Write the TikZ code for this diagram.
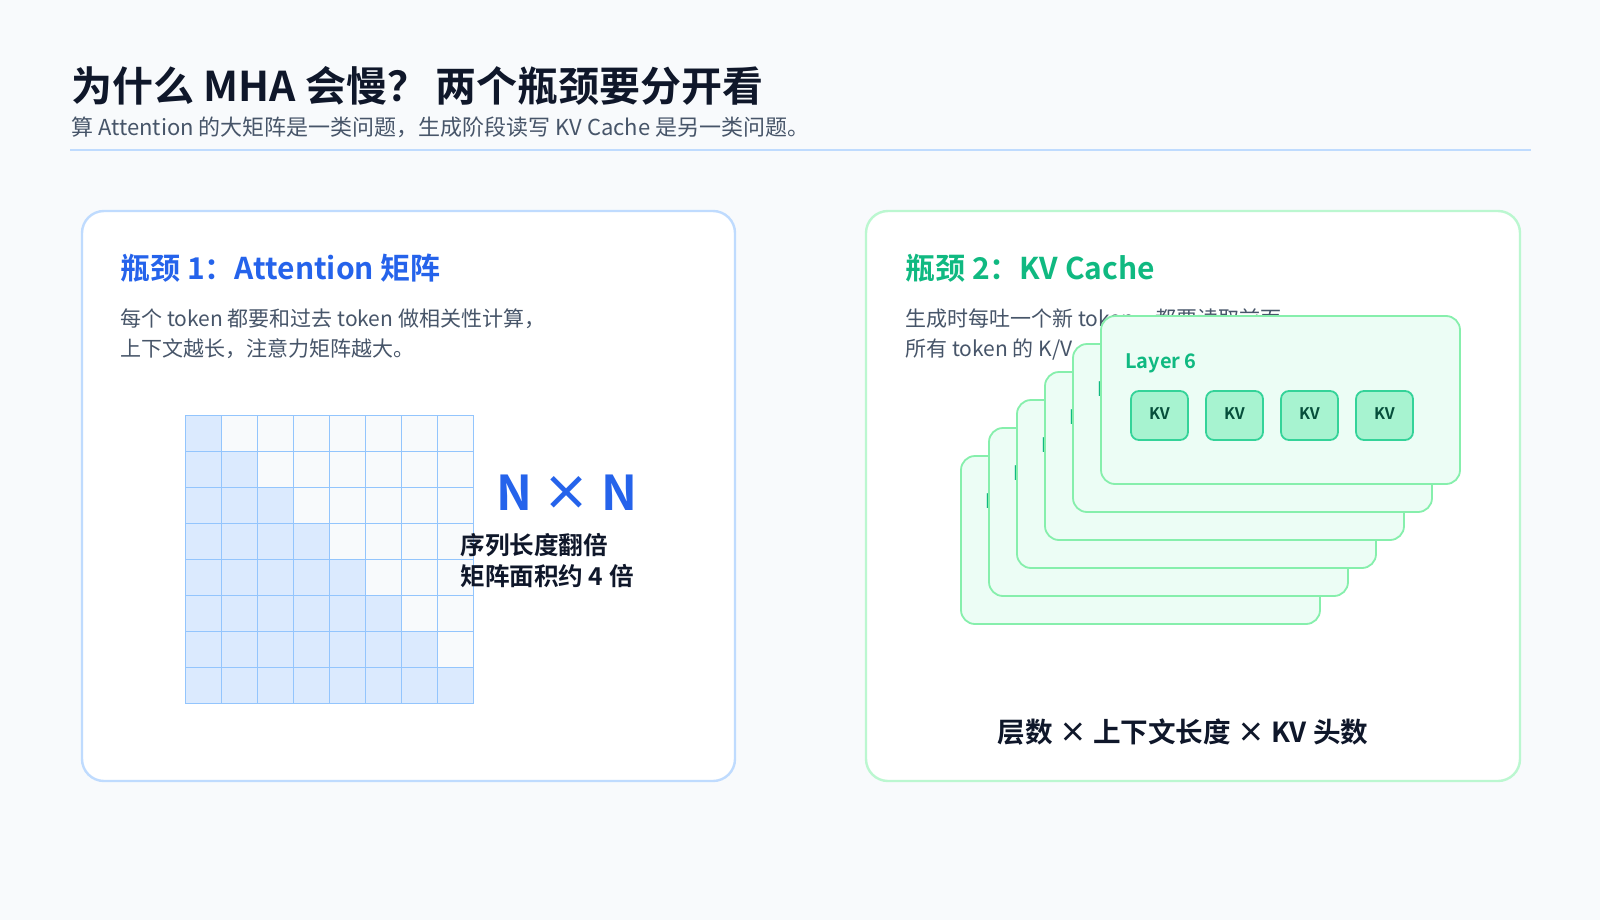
\documentclass[tikz,border=0pt]{standalone}
\usepackage{fontspec}
\setmainfont{Noto Sans CJK SC}
\newfontfamily\cjkb{Noto Sans CJK SC Bold}
\definecolor{pagebg}{HTML}{F8FAFC}
\definecolor{ink}{HTML}{0F172A}
\definecolor{subink}{HTML}{475569}
\definecolor{blueline}{HTML}{BFDBFE}
\definecolor{greenline}{HTML}{BBF7D0}
\definecolor{bluehead}{HTML}{2563EB}
\definecolor{greenhead}{HTML}{10B981}
\definecolor{cellfill}{HTML}{DBEAFE}
\definecolor{cellline}{HTML}{93C5FD}
\definecolor{cardfill}{HTML}{ECFDF5}
\definecolor{cardline}{HTML}{86EFAC}
\definecolor{kvfill}{HTML}{A7F3D0}
\definecolor{kvline}{HTML}{34D399}
\definecolor{kvink}{HTML}{064E3B}

\begin{document}
\begin{tikzpicture}
  [x=0.5pt,y=-0.5pt,
    every node/.style={inner sep=0pt,anchor=base west},
    panel/.style={draw,line width=1.2pt,fill=white,rounded corners=11pt},
    head/.style={font=\cjkb\fontsize{15}{18}\selectfont},
    body/.style={font=\fontsize{10.5}{14}\selectfont,text=subink},
    cell/.style={draw=cellline,line width=0.4pt},
    card/.style={draw=cardline,fill=cardfill,line width=0.9pt,rounded corners=7pt},
    kv/.style={draw=kvline,fill=kvfill,line width=0.9pt,rounded corners=4pt},
  ]
  \fill[pagebg] (0,0) rectangle (1600,920);
  % title
  \node[font=\cjkb\fontsize{20.5}{24}\selectfont,text=ink] (title) at (71,102) {为什么 MHA 会慢？\,两个瓶颈要分开看};
  \node[font=\fontsize{11}{14}\selectfont,text=subink] (subtitle) at (71,135) {算 Attention 的大矩阵是一类问题，生成阶段读写 KV Cache 是另一类问题。};
  \draw[blueline,line width=1.2pt] (70,150) -- (1531,150);

  % panel 1
  \draw[panel,draw=blueline] (82,211) rectangle (735,781);
  \node[head,text=bluehead] (h1) at (120,279) {瓶颈 1：Attention 矩阵};
  \node[body] (b1a) at (120,326) {每个 token 都要和过去 token 做相关性计算，};
  \node[body] (b1b) at (120,356) {上下文越长，注意力矩阵越大。};
  \foreach \i in {0,...,7}
    \foreach \j in {0,...,7} {
      \ifnum\j>\i
        \draw[cell,fill=pagebg] (185+36*\j,415+36*\i) rectangle ++(36,36);
      \else
        \draw[cell,fill=cellfill] (185+36*\j,415+36*\i) rectangle ++(36,36);
      \fi
    }
  \node[anchor=center,font=\cjkb\fontsize{24}{28}\selectfont,text=bluehead] (nn) at (567,493) {N × N};
  \node[font=\cjkb\fontsize{12.3}{15}\selectfont,text=ink] (r1) at (460,554) {序列长度翻倍};
  \node[font=\cjkb\fontsize{12.3}{15}\selectfont,text=ink] (r2) at (460,585) {矩阵面积约 4 倍};

  % panel 2
  \draw[panel,draw=greenline] (866,211) rectangle (1520,781);
  \node[head,text=greenhead] (h2) at (905,279) {瓶颈 2：KV Cache};
  \node[body] (b2a) at (905,326) {生成时每吐一个新 token，都要读取前面};
  \node[body] (b2b) at (905,356) {所有 token 的 K/V};
  % stacked layers
  \foreach \k in {1,...,6} {
    \draw[card] (961+28*\k-28,456-28*\k+28) rectangle ++(359,168);
    \node[font=\cjkb\fontsize{10}{12}\selectfont,text=greenhead] (layer\k) at (985+28*\k-28,508-28*\k+28) {Layer \k};
  }
  \foreach \m in {0,...,3} {
    \draw[kv] (1131+75*\m,391) rectangle ++(57,49);
    \node[anchor=center,font=\cjkb\fontsize{8}{10}\selectfont,text=kvink] (kv\m) at (1159.5+75*\m,414) {KV};
  }
  \node[anchor=base,font=\cjkb\fontsize{13.8}{16}\selectfont,text=ink] (formula) at (1183,742) {层数 × 上下文长度 × KV 头数};
\end{tikzpicture}
\end{document}
